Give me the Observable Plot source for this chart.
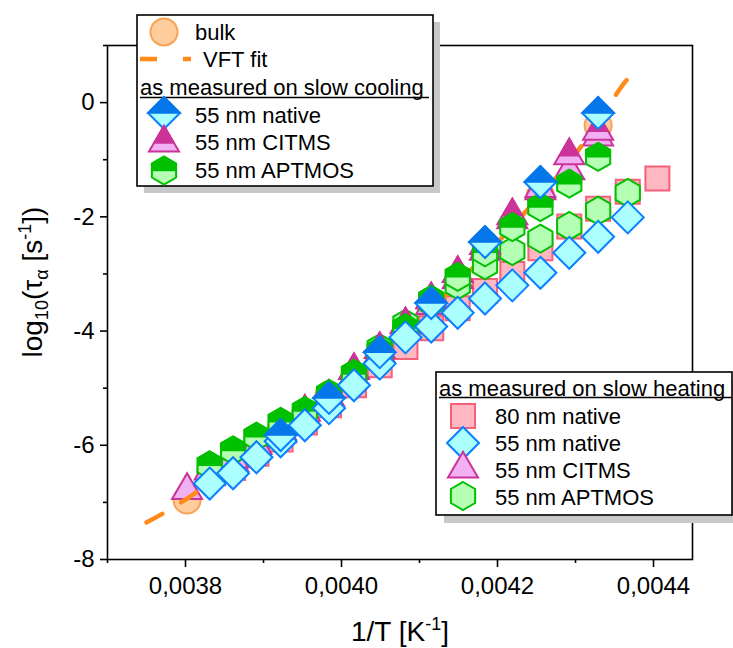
<!DOCTYPE html>
<html><head><meta charset="utf-8">
<script src="https://cdn.jsdelivr.net/npm/d3@7"></script>
<script src="https://cdn.jsdelivr.net/npm/@observablehq/plot@0.6"></script>
<style>
body{margin:0;background:#fff;}
svg{font-family:"Liberation Sans",Arial,sans-serif;}
</style>
</head><body><div id="chart"></div>
<script>
// ---------- data (x = 1/T in K^-1, y = log10 tau) ----------
const bulkX = [0.003802,0.003861,0.003922,0.003984,0.004049,0.004115,0.004184,0.004255,0.004329];
const bulkY = [-6.96,-6.37,-5.77,-5.12,-4.39,-3.60,-2.67,-1.62,-0.40];

const vftX = [0.00375,0.0038,0.0039,0.0040,0.0041,0.0042,0.00425,0.0043,0.00435,0.004366];
const vftY = [-7.35,-6.95,-6.0,-4.95,-3.8,-2.45,-1.7,-0.9,0.1,0.4];

// slow cooling
const coolNativeX = [0.003922,0.003984,0.004049,0.004115,0.004184,0.004255,0.004329];
const coolNativeY = [-5.82,-5.17,-4.37,-3.51,-2.44,-1.39,-0.18];

const coolCitmsX = [0.003831,0.003861,0.003891,0.003922,0.003953,0.003984,0.004016,0.004049,0.004082,0.004115,0.004149,0.004184,0.004219,0.004255,0.004292,0.004329];
const coolCitmsY = [-6.45,-6.24,-6.0,-5.74,-5.42,-5.16,-4.69,-4.32,-3.89,-3.45,-2.99,-2.5,-1.98,-1.5,-0.93,-0.5];

const coolAptmosX = [0.003831,0.003861,0.003891,0.003922,0.003953,0.003984,0.004016,0.004049,0.004082,0.004115,0.004149,0.004184,0.004219,0.004255,0.004292,0.004329];
const coolAptmosY = [-6.35,-6.09,-5.85,-5.59,-5.40,-5.10,-4.75,-4.35,-3.95,-3.45,-3.05,-2.62,-2.18,-1.83,-1.42,-0.95];

// slow heating
const heat80X = [0.003861,0.003891,0.003922,0.003953,0.003984,0.004016,0.004049,0.004082,0.004115,0.004149,0.004184,0.004219,0.004255,0.004292,0.004329,0.004367,0.004405];
const heat80Y = [-6.4,-6.15,-5.9,-5.6,-5.3,-4.95,-4.6,-4.28,-3.95,-3.6,-3.3,-3.0,-2.55,-2.17,-1.86,-1.56,-1.33];

const heatNativeX = [0.003831,0.003861,0.003891,0.003922,0.003953,0.003984,0.004016,0.004049,0.004082,0.004115,0.004149,0.004184,0.004219,0.004255,0.004292,0.004329,0.004367];
const heatNativeY = [-6.67,-6.49,-6.21,-5.93,-5.65,-5.35,-4.95,-4.57,-4.11,-3.92,-3.68,-3.43,-3.20,-2.98,-2.63,-2.35,-2.01];

const heatCitmsX = [0.003802,0.003831,0.003861,0.003891,0.003922,0.003953,0.003984,0.004016,0.004049,0.004082,0.004115,0.004149,0.004184,0.004219,0.004255,0.004292,0.004329];
const heatCitmsY = [-6.79,-6.55,-6.3,-6.05,-5.8,-5.5,-5.2,-4.8,-4.4,-3.98,-3.55,-3.1,-2.6,-2.05,-1.54,-1.19,-0.6];

const heatAptmosX = [0.003831,0.003861,0.003891,0.003922,0.003953,0.003984,0.004016,0.004049,0.004082,0.004115,0.004149,0.004184,0.004219,0.004255,0.004292,0.004329,0.004367];
const heatAptmosY = [-6.5,-6.25,-6.0,-5.75,-5.5,-5.2,-4.75,-4.3,-3.87,-3.5,-3.2,-2.85,-2.6,-2.38,-2.16,-1.89,-1.58];

const xTicks = [0.0038,0.0040,0.0042,0.0044];
const xMinor = [0.0037,0.0039,0.0041,0.0043];
const yTicks = [-8,-6,-4,-2,0];
const yMinor = [-7,-5,-3,-1,1];

const legendCooling = ["55 nm native","55 nm CITMS","55 nm APTMOS"];
const legendHeating = ["80 nm native","55 nm native","55 nm CITMS","55 nm APTMOS"];

// ---------- styles ----------
const C = {
  bulkFill:"#ffcc9c", bulkStroke:"#f7a254",
  vft:"#ff8a1a",
  sqFill:"#ffb7c2", sqStroke:"#f7607a",
  diaFill:"#abffff", diaStroke:"#0a80ff", diaDark:"#0677ea",
  triFill:"#f0b0f2", triStroke:"#cc3399", triDark:"#cc3399",
  hexFill:"#b4ffb4", hexStroke:"#00c000", hexDark:"#00c000"
};

// ---------- custom symbols ----------
function poly(ctx, pts){ctx.moveTo(pts[0][0],pts[0][1]);for(let i=1;i<pts.length;i++)ctx.lineTo(pts[i][0],pts[i][1]);ctx.closePath();}
const rad = s => Math.sqrt(s/Math.PI);
const C30 = Math.sqrt(3)/2;
const sym = {
  diamond:{draw(c,s){const r=rad(s);poly(c,[[0,-r],[r,0],[0,r],[-r,0]]);}},
  diamondTop:{draw(c,s){const r=rad(s);poly(c,[[0,-r],[r,0],[-r,0]]);}},
  square:{draw(c,s){const r=rad(s);poly(c,[[-r,-r],[r,-r],[r,r],[-r,r]]);}},
  triangle:{draw(c,s){const r=rad(s),h=r*1.72;poly(c,[[0,-2*h/3],[r,h/3],[-r,h/3]]);}},
  triangleTop:{draw(c,s){const r=rad(s),h=r*1.72;poly(c,[[0,-2*h/3],[2*r/3,0],[-2*r/3,0]]);}},
  hexagon:{draw(c,s){const R=rad(s),a=R*C30;poly(c,[[0,-R],[a,-R/2],[a,R/2],[0,R],[-a,R/2],[-a,-R/2]]);}},
  hexagonTop:{draw(c,s){const R=rad(s),a=R*C30;poly(c,[[0,-R],[a,-R/2],[a,0],[-a,0],[-a,-R/2]]);}},
  circle:{draw(c,s){const r=rad(s);c.moveTo(r,0);c.arc(0,0,r,0,2*Math.PI);c.closePath();}}
};
const R = {circle:13.5, square:12, diamond:16, triangle:15, hexagon:14};

const rows = (X,Y) => X.map((x,i)=>({x, y:Y[i]}));

function single(X,Y,shape,fill,stroke){
  return Plot.dot(rows(X,Y),{x:"x",y:"y",symbol:sym[shape],r:R[shape],fill,stroke,strokeWidth:2});
}
function bicolor(X,Y,shape,fill,stroke,dark){
  return [
    Plot.dot(rows(X,Y),{x:"x",y:"y",symbol:sym[shape],r:R[shape],fill,stroke,strokeWidth:2}),
    Plot.dot(rows(X,Y),{x:"x",y:"y",symbol:sym[shape+"Top"],r:R[shape],fill:dark,stroke:dark,strokeWidth:1.5})
  ];
}

const fmtX = d => d.toFixed(4).replace(".", ",");

const plot = Plot.plot({
  width:733, height:648,
  marginLeft:107, marginRight:41, marginTop:45, marginBottom:89,
  x:{domain:[0.0037,0.00445]},
  y:{domain:[-8,1]},
  style:{fontFamily:'"Liberation Sans",Arial,sans-serif', background:"white", color:"black"},
  marks:[
    single(bulkX,bulkY,"circle",C.bulkFill,C.bulkStroke),
    single(heat80X,heat80Y,"square",C.sqFill,C.sqStroke),
    single(heatCitmsX,heatCitmsY,"triangle",C.triFill,C.triStroke),
    Plot.line(rows(vftX,vftY),{x:"x",y:"y",curve:"natural",stroke:C.vft,strokeWidth:4.5,strokeDasharray:"18,22",strokeLinecap:"round"}),
    single(heatAptmosX,heatAptmosY,"hexagon",C.hexFill,C.hexStroke),
    ...bicolor(coolCitmsX,coolCitmsY,"triangle",C.triFill,C.triStroke,C.triDark),
    ...bicolor(coolAptmosX,coolAptmosY,"hexagon",C.hexFill,C.hexStroke,C.hexDark),
    single(heatNativeX,heatNativeY,"diamond",C.diaFill,C.diaStroke),
    ...bicolor(coolNativeX,coolNativeY,"diamond",C.diaFill,C.diaStroke,C.diaDark),
    Plot.frame({stroke:"black",strokeWidth:1.6}),
    Plot.axisY({ticks:yTicks,tickSize:7,tickPadding:6,tickFormat:d=>String(d),fontSize:24,label:null,strokeWidth:1.6}),
    Plot.axisY({ticks:yMinor,tickSize:4,tickFormat:()=>"",label:null,strokeWidth:1.6}),
    Plot.axisX({ticks:xTicks,tickSize:8,tickPadding:9,tickFormat:fmtX,fontSize:24,label:null,strokeWidth:1.6}),
    Plot.axisX({ticks:xMinor,tickSize:4,tickFormat:()=>"",label:null,strokeWidth:1.6})
  ]
});
document.getElementById("chart").appendChild(plot);

// ---------- titles and legends (added into the same SVG) ----------
const svg = d3.select(plot);
const FF = '"Liberation Sans",Arial,sans-serif';

// x title
const xt = svg.append("text").attr("x",400).attr("y",641).attr("text-anchor","middle")
  .attr("font-family",FF).attr("font-size",28).attr("fill","black");
xt.append("tspan").text("1/T [K");
xt.append("tspan").attr("font-size",18).attr("dy",-11).text("-1");
xt.append("tspan").attr("dy",11).text("]");

// y title
const yt = svg.append("text").attr("transform","translate(42,282) rotate(-90)").attr("text-anchor","middle")
  .attr("font-family",FF).attr("font-size",28).attr("fill","black");
yt.append("tspan").text("log");
yt.append("tspan").attr("font-size",18).attr("dy",6).text("10");
yt.append("tspan").attr("dy",-6).text("(τ");
yt.append("tspan").attr("font-size",18).attr("dy",6).text("α");
yt.append("tspan").attr("dy",-6).text(" [s");
yt.append("tspan").attr("font-size",18).attr("dy",-11).text("-1");
yt.append("tspan").attr("dy",11).text("])");

function symPath(g, shape, cx, cy, fill, stroke, dark){
  const size = Math.PI*R[shape]*R[shape];
  g.append("path").attr("transform",`translate(${cx},${cy})`)
    .attr("d", d3.symbol().type(sym[shape]).size(size)())
    .attr("fill",fill).attr("stroke",stroke).attr("stroke-width",2);
  if (dark) g.append("path").attr("transform",`translate(${cx},${cy})`)
    .attr("d", d3.symbol().type(sym[shape+"Top"]).size(size)())
    .attr("fill",dark).attr("stroke",dark).attr("stroke-width",1.5);
}
function label(g, x, y, t){
  g.append("text").attr("x",x).attr("y",y).attr("text-anchor","start").attr("font-family",FF).attr("font-size",22).attr("fill","black").text(t);
}

// legend 1
const L1 = svg.append("g");
L1.append("rect").attr("x",144).attr("y",22).attr("width",296).attr("height",171).attr("fill","#c8c8c8");
L1.append("rect").attr("x",137).attr("y",15).attr("width",296).attr("height",171).attr("fill","white").attr("stroke","black").attr("stroke-width",1.6);
symPath(L1,"circle",164,32,C.bulkFill,C.bulkStroke);
label(L1,195,40,"bulk");
L1.append("line").attr("x1",140).attr("x2",157).attr("y1",59).attr("y2",59).attr("stroke",C.vft).attr("stroke-width",4.5);
L1.append("line").attr("x1",183).attr("x2",191).attr("y1",59).attr("y2",59).attr("stroke",C.vft).attr("stroke-width",4.5);
label(L1,203,67,"VFT fit");
label(L1,140,95,"as measured on slow cooling");
L1.append("line").attr("x1",140).attr("x2",429).attr("y1",97.5).attr("y2",97.5).attr("stroke","black").attr("stroke-width",1.5);
symPath(L1,"diamond",164,113,C.diaFill,C.diaStroke,C.diaDark);
label(L1,195,123,legendCooling[0]);
symPath(L1,"triangle",164,143,C.triFill,C.triStroke,C.triDark);
label(L1,195,150,legendCooling[1]);
symPath(L1,"hexagon",164,170.5,C.hexFill,C.hexStroke,C.hexDark);
label(L1,195,178,legendCooling[2]);

// legend 2
const L2 = svg.append("g");
L2.append("rect").attr("x",444).attr("y",380).attr("width",300).attr("height",143).attr("fill","#c8c8c8");
L2.append("rect").attr("x",436).attr("y",372).attr("width",296).attr("height",143).attr("fill","white").attr("stroke","black").attr("stroke-width",1.6);
label(L2,439,396,"as measured on slow heating");
L2.append("line").attr("x1",439).attr("x2",732).attr("y1",397.5).attr("y2",397.5).attr("stroke","black").attr("stroke-width",1.5);
symPath(L2,"square",463,416,C.sqFill,C.sqStroke);
label(L2,495,424,legendHeating[0]);
symPath(L2,"diamond",463,443,C.diaFill,C.diaStroke);
label(L2,495,451,legendHeating[1]);
symPath(L2,"triangle",463,469,C.triFill,C.triStroke);
label(L2,495,478,legendHeating[2]);
symPath(L2,"hexagon",463,496,C.hexFill,C.hexStroke);
label(L2,495,505,legendHeating[3]);
</script>
</body></html>
